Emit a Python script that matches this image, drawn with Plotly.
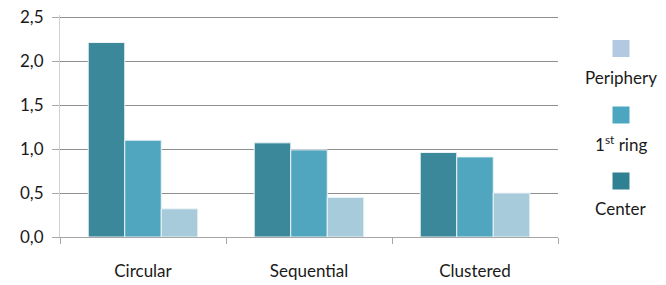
import plotly.graph_objects as go

categories = ["Circular", "Sequential", "Clustered"]
series_names = ["Center", "1<sup>st</sup> ring", "Periphery"]
center_vals = [2.21, 1.07, 0.96]
ring_vals = [1.10, 0.99, 0.91]
periphery_vals = [0.32, 0.45, 0.50]
bar_colors = ["#3C889B", "#4FA6BE", "#A7CBDA"]
legend_colors = ["#2F8093", "#4CA6C0", "#B3C9E2"]
y_ticks = [0.0, 0.5, 1.0, 1.5, 2.0, 2.5]

W, H = 666, 285
L, T = 60, 15
pw, ph = 498, 222
R, B = W - L - pw, H - T - ph
y_top = 2.5 * ph / 220.0

fig = go.Figure()
for name, vals, col in zip(series_names, [center_vals, ring_vals, periphery_vals], bar_colors):
    fig.add_trace(go.Bar(x=categories, y=vals, name=name, marker=dict(color=col, line=dict(color="rgba(235,243,246,1)", width=1)), showlegend=False))

font_family = "Lato, 'Open Sans', sans-serif"

def px_to_paper_x(px):
    return (px - L) / pw

def px_to_paper_y(py):
    return (T + ph - py) / ph

# custom legend: swatch above text, order Periphery, 1st ring, Center
legend_items = list(zip(series_names, legend_colors))[::-1]
sw_centers = [48.5, 115, 181]
txt_centers = [77, 143, 208]
cx = 621
half = 8.5
for (name, col), sy, ty in zip(legend_items, sw_centers, txt_centers):
    fig.add_shape(type="rect", xref="paper", yref="paper",
                  x0=px_to_paper_x(cx - half), x1=px_to_paper_x(cx + half),
                  y0=px_to_paper_y(sy + half), y1=px_to_paper_y(sy - half),
                  fillcolor=col, line=dict(width=0))
    fig.add_annotation(xref="paper", yref="paper", x=px_to_paper_x(cx), y=px_to_paper_y(ty),
                       text=name, showarrow=False, xanchor="center", yanchor="middle",
                       font=dict(family=font_family, size=17, color="#1a1a1a"))

fig.update_layout(
    width=W, height=H,
    margin=dict(l=L, r=R, t=T, b=B, autoexpand=False),
    paper_bgcolor="white", plot_bgcolor="white",
    barmode="group", bargap=0.34, bargroupgap=0.0,
    separators=", ",
    font=dict(family=font_family, size=17, color="#1a1a1a"),
    showlegend=False,
)
fig.update_xaxes(
    automargin=False,
    showline=True, linecolor="#a6a6a6", linewidth=1,
    ticks="outside", tickson="boundaries", ticklen=6, tickcolor="#a6a6a6",
    ticklabelstandoff=19, showgrid=False,
    tickfont=dict(family=font_family, size=17, color="#1a1a1a"),
)
fig.update_yaxes(
    automargin=False,
    range=[0, y_top], tickvals=y_ticks, tickformat=".1f",
    ticklabeloverflow="allow",
    showline=True, linecolor="#d0d0d0", linewidth=1,
    ticks="outside", ticklen=7, tickcolor="#a6a6a6",
    showgrid=True, gridcolor="#8f8f8f", gridwidth=1, zeroline=False,
    ticklabelstandoff=5,
    tickfont=dict(family=font_family, size=17, color="#1a1a1a"),
)

fig.write_html("out.html", config={"displayModeBar": False},
               post_script="document.body.style.margin='0';")
